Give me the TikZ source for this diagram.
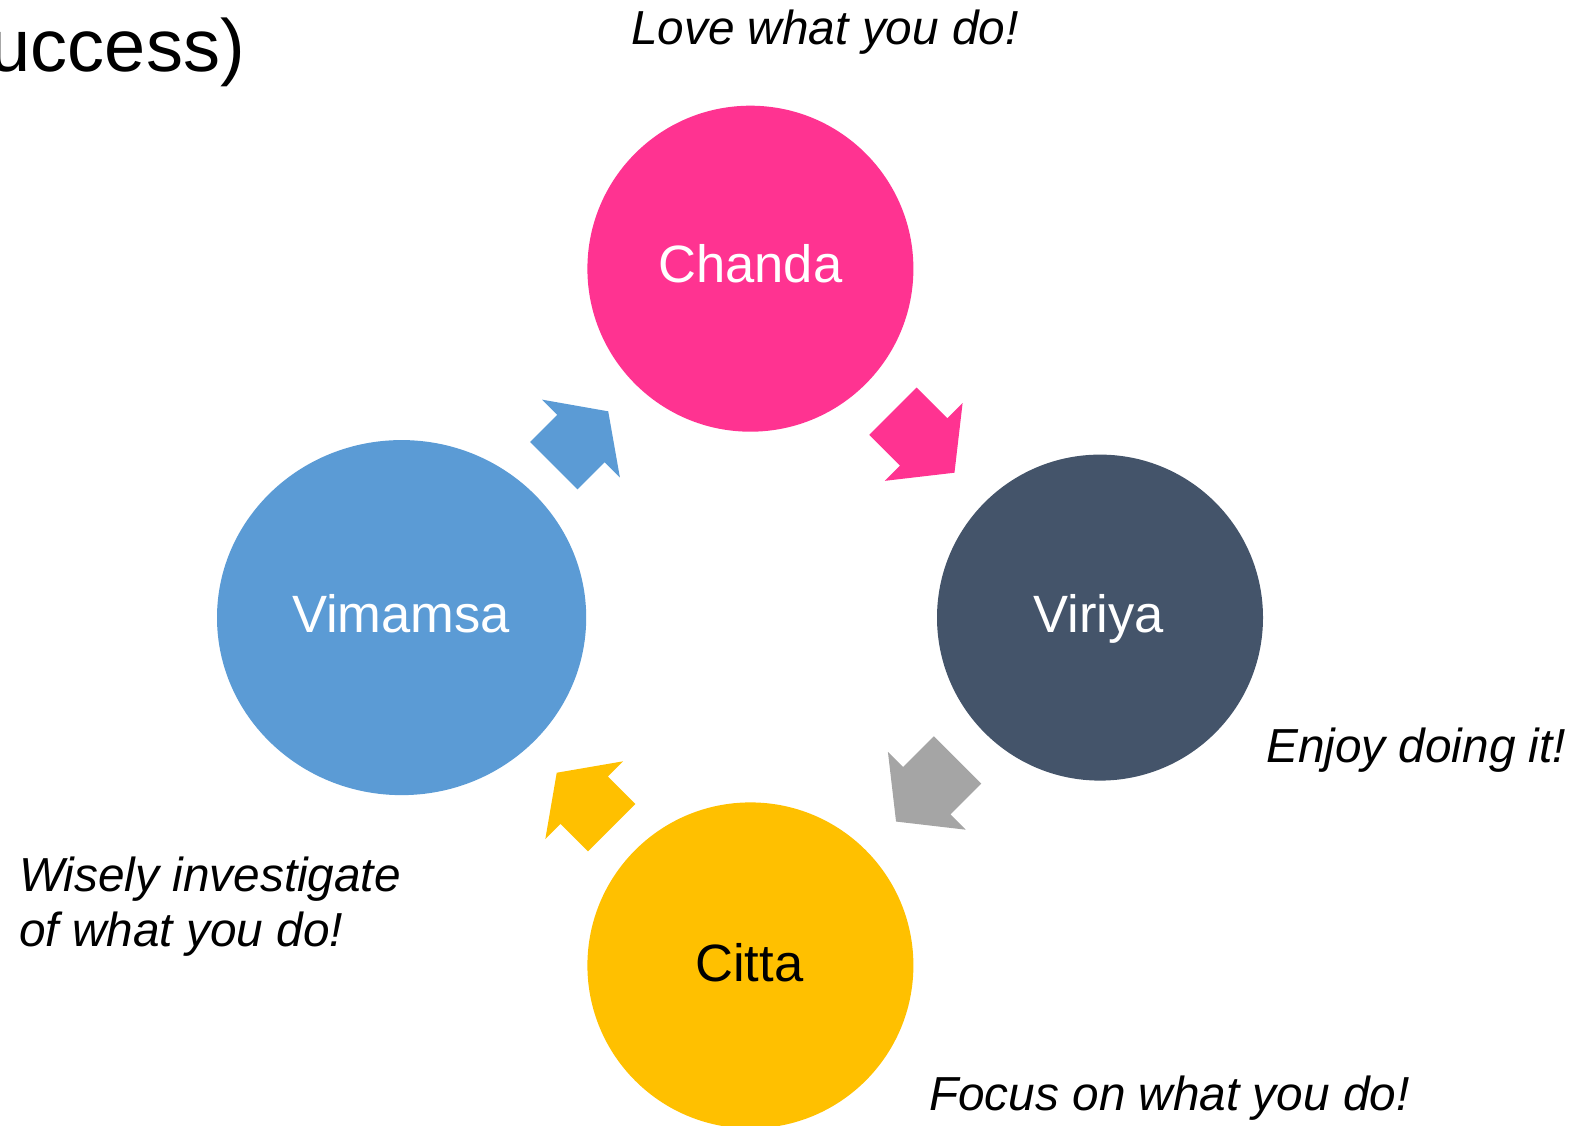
\documentclass[tikz,border=0pt]{standalone}
\usepackage{fontspec}
\setmainfont{Liberation Sans}
\usetikzlibrary{shapes.geometric,calc}

\definecolor{chandaPink}{HTML}{FF3391}
\definecolor{viriyaSlate}{HTML}{44546A}
\definecolor{vimamsaBlue}{HTML}{5B9BD5}
\definecolor{cittaGold}{HTML}{FFC000}
\definecolor{arrowGray}{HTML}{A5A5A5}

\tikzset{
  % one unit = one pixel of a 1590 x 1126 canvas, y pointing down
  disc/.style={circle, inner sep=0pt, minimum size=244.5pt},
  oval/.style={ellipse, inner sep=0pt, minimum width=276.9pt, minimum height=266.3pt},
  disclabel/.style={anchor=base, inner sep=0pt, font=\fontsize{39.4}{44}\selectfont},
  motto/.style={anchor=base west, inner sep=0pt, font=\fontsize{35.8}{42}\selectfont\itshape},
  % block arrow pointing along +x, total length #1, head as long as the shaft
  pics/blockarrow/.style={code={
    \path[pic actions] ({-#1/2},-33.5) -- (0,-33.5) -- (0,-55) -- ({#1/2},0)
      -- (0,55) -- (0,33.5) -- ({-#1/2},33.5) -- cycle;
  }}
}

\begin{document}
\begin{tikzpicture}[x=0.75pt, y=-0.75pt]
  \useasboundingbox (0,0) rectangle (1590,1126);
  \clip (0,0) rectangle (1590,1126);

  % title fragment
  \node[anchor=base west, inner sep=0pt, font=\fontsize{55.5}{60}\selectfont]
    (title) at (-10.5,71.7) {uccess)};

  % the four circles
  \node[disc, fill=chandaPink]  (chanda)  at (750.4,268.7) {};
  \node[disc, fill=viriyaSlate] (viriya)  at (1100,617.6) {};
  \node[disc, fill=cittaGold]   (citta)   at (750.4,965.4) {};
  \node[oval, fill=vimamsaBlue] (vimamsa) at (401.6,617.6) {};

  % circle labels
  \node[disclabel, text=white] (chandaT)  at (750.4,282.3) {Chanda};
  \node[disclabel, text=white] (viriyaT)  at (1098.7,632.7) {Viriya};
  \node[disclabel, text=black] (cittaT)   at (749.3,981) {Citta};
  \node[disclabel, text=white] (vimamsaT) at (401,632.7) {Vimamsa};

  % block arrows running round the cycle
  \pic[fill=vimamsaBlue, rotate=45]
    at ($(vimamsa)!0.5!(chanda)+(5,-4.6)$) {blockarrow=77};
  \pic[fill=chandaPink, rotate=-45]
    at ($(chanda)!0.5!(viriya)+(-1.5,-1.2)$) {blockarrow=87};
  \pic[fill=arrowGray, rotate=-135]
    at ($(viriya)!0.5!(citta)+(1.6,-0.7)$) {blockarrow=87};
  \pic[fill=cittaGold, rotate=135]
    at ($(citta)!0.5!(vimamsa)+(8.2,8.7)$) {blockarrow=77.7};

  % mottos
  \node[motto] (love)   at (631,45)      {Love what you do!};
  \node[motto] (enjoy)  at (1266,762.7)  {Enjoy doing it!};
  \node[motto] (focus)  at (929,1110)    {Focus on what you do!};
  \node[motto] (wise1)  at (19,891.7)    {Wisely investigate};
  \node[motto] (wise2)  at (19,946)      {of what you do!};
\end{tikzpicture}
\end{document}
